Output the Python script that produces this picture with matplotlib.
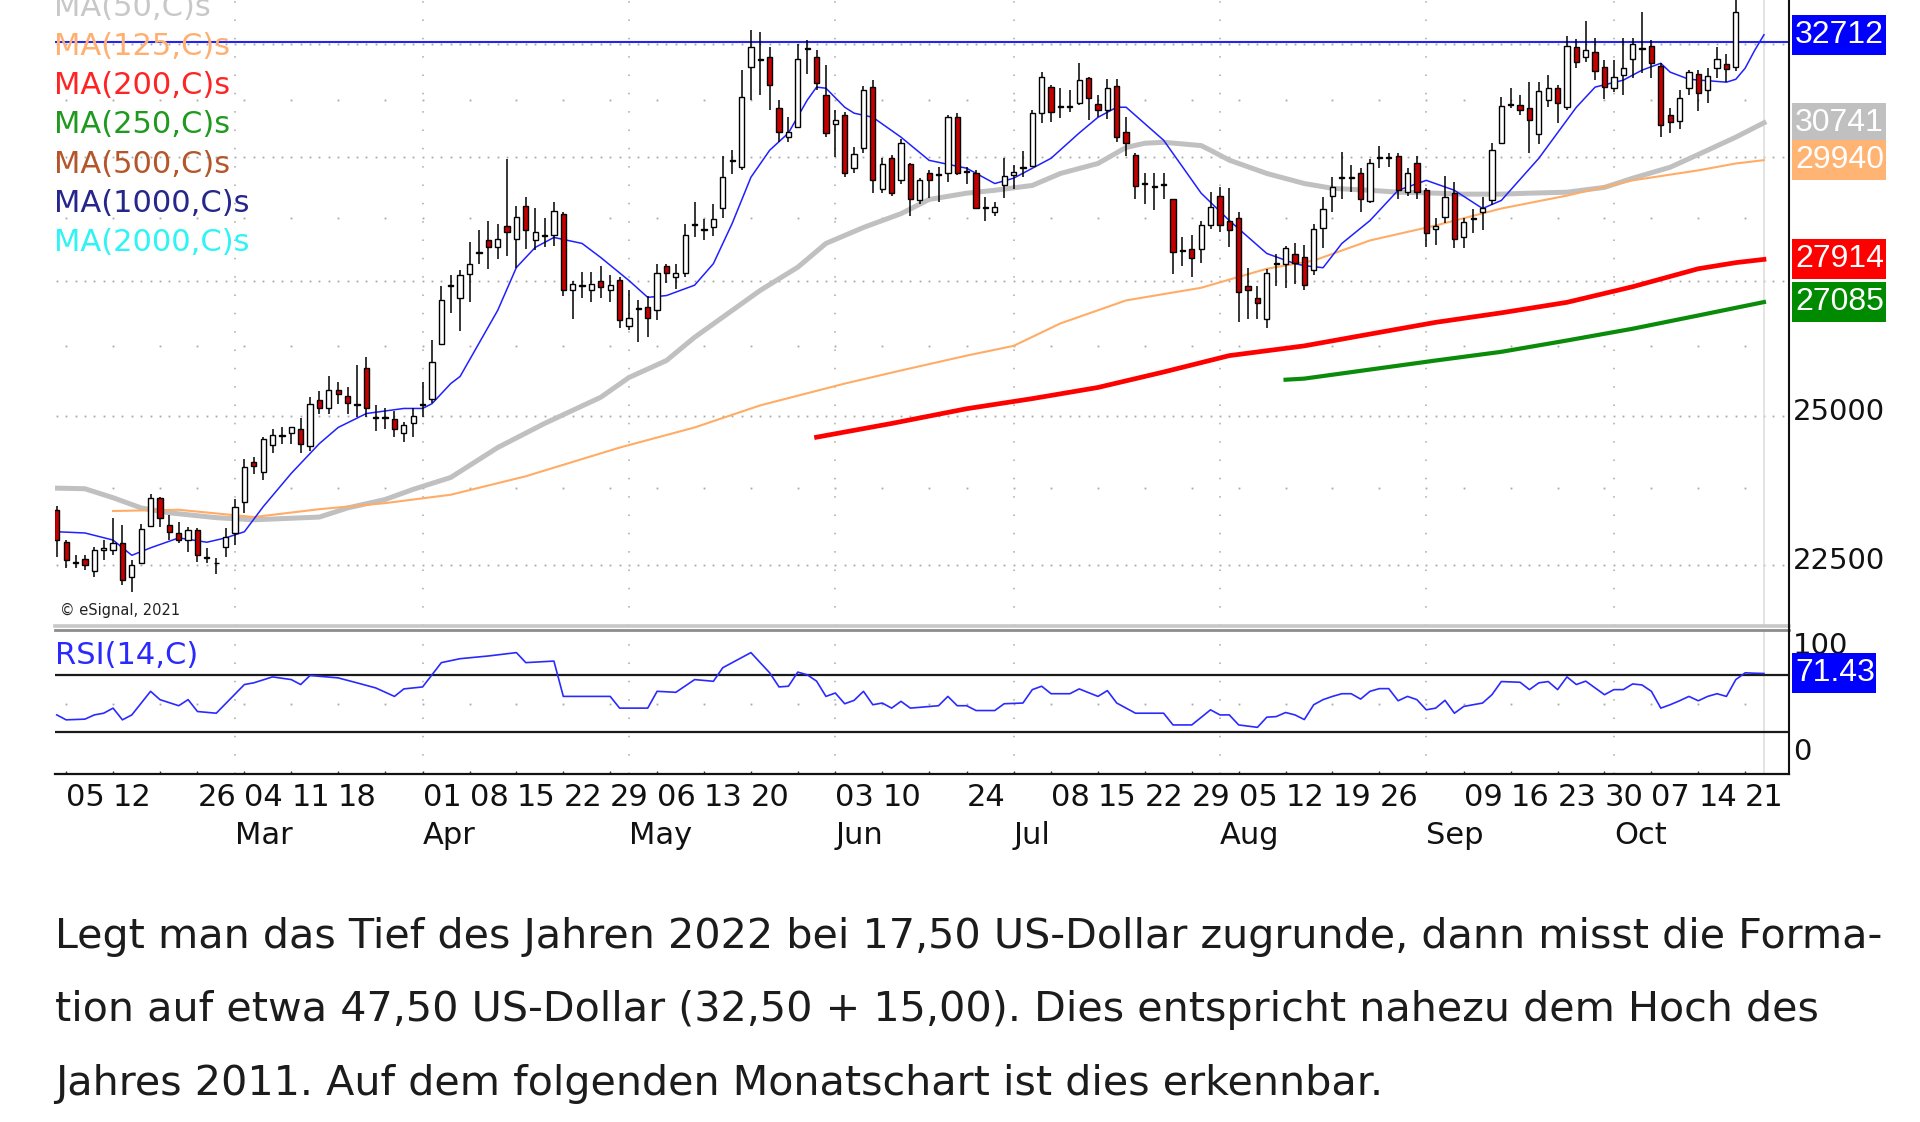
import numpy as np
import pandas as pd
import matplotlib
matplotlib.use("Agg")
import matplotlib.pyplot as plt
from matplotlib import transforms as mtrans
from matplotlib.lines import Line2D
from matplotlib.patches import Rectangle
from matplotlib.ticker import NullLocator

# ---------------- data ----------------
holidays = ["2024-02-19", "2024-03-29", "2024-05-27", "2024-06-19", "2024-07-04", "2024-09-02"]
dates = pd.bdate_range("2024-02-02", "2024-10-23")
dates = dates[~dates.isin(pd.to_datetime(holidays))]

opens = [
    23390, 22860, 22550, 22590, 22400, 22740, 22733, 22840, 22300, 22520,
    23125, 23590, 23140, 23010, 22895, 23060, 22630, 22530, 22780, 23010,
    23520, 24200, 24030, 24480, 24640, 24700, 24760, 24470, 25280, 25125,
    25460, 25340, 25190, 25845, 24960, 24955, 24930, 24700, 24860, 25190,
    25300, 26300, 27390, 27160, 27630, 28040, 28290, 28150, 28570, 28310,
    28995, 28290, 28380, 28390, 28830, 27310, 27400, 27310, 27500, 27310,
    27510, 26640, 26950, 27000, 26925, 27790, 27560, 27650, 28600, 28500,
    28550, 28955, 29930, 29790, 31970, 32140, 32200, 31060, 30430, 30645,
    32390, 32200, 31345, 30710, 30900, 29770, 30190, 31530, 29330, 29980,
    29516, 29850, 29100, 29680, 29630, 29680, 30860, 29690, 29680, 28950,
    28855, 29410, 29620, 29780, 29810, 30950, 31530, 31090, 31090, 31170,
    31725, 31150, 31015, 31550, 30540, 30040, 29440, 29380, 29420, 29120,
    28080, 28110, 28110, 28610, 29200, 28690, 28735, 27400, 27155, 26770,
    27820, 27830, 28030, 27970, 27710, 28530, 29200, 29570, 29570, 29660,
    29080, 29990, 29990, 30020, 29270, 29870, 29310, 28510, 28770, 29250,
    28350, 28720, 28855, 29100, 30300, 31140, 31125, 31060, 30495, 31235,
    31500, 31080, 32440, 32200, 32310, 31970, 31500, 31790, 32150, 32390,
    32450, 31990, 30900, 30770, 31500, 31815, 31457, 31950, 32040, 31970,
    33700, 33800, 34300,
]
highs = [
    23455, 22895, 22650, 22650, 22780, 22895, 23250, 23140, 22570, 23160,
    23650, 23610, 23310, 23190, 23110, 23090, 22760, 22600, 23090, 23575,
    24236, 24270, 24630, 24770, 24790, 24790, 24950, 25320, 25445, 25716,
    25590, 25500, 25900, 26050, 25180, 25140, 25088, 24880, 25140, 25590,
    26360, 27400, 27600, 27700, 28250, 28490, 28690, 28630, 29960, 28995,
    29165, 28937, 28750, 29060, 28855, 27500, 27660, 27660, 27790, 27600,
    27560, 27310, 27117, 27210, 27830, 27830, 27830, 28630, 29060, 28730,
    29020, 30020, 30150, 31905, 32820, 32770, 32430, 31235, 30860, 32500,
    32590, 32360, 32020, 31015, 30970, 30210, 31550, 31680, 29980, 30040,
    30400, 29890, 29560, 29725, 29790, 30900, 30950, 29790, 29725, 29165,
    29060, 29980, 29830, 30130, 31015, 31860, 31570, 31500, 31457, 32060,
    31750, 31345, 31700, 31700, 30860, 30085, 29660, 29660, 29680, 29140,
    28350, 28390, 28690, 29270, 29370, 29350, 28855, 27750, 27390, 27730,
    28030, 28170, 28230, 28190, 28630, 29165, 29580, 30110, 29830, 29770,
    29960, 30250, 30085, 30085, 29770, 30020, 29350, 28750, 29600, 29475,
    28750, 28935, 29165, 30300, 31300, 31500, 31345, 31635, 31635, 31790,
    31570, 32680, 32610, 33030, 32630, 32130, 32130, 32630, 32630, 33240,
    32590, 32060, 31060, 31457, 31905, 31905, 31950, 32430, 32270, 33750,
    34100, 34500, 34870,
]
lows = [
    22620, 22450, 22450, 22420, 22310, 22573, 22650, 22180, 22070, 22520,
    23110, 23110, 22895, 22845, 22700, 22540, 22520, 22360, 22620, 22810,
    23340, 23980, 23895, 24340, 24500, 24510, 24340, 24380, 25035, 25035,
    25210, 25035, 24965, 24965, 24720, 24770, 24630, 24530, 24630, 24965,
    25230, 26280, 26870, 26530, 27080, 27830, 27730, 27930, 27990, 27750,
    28110, 28090, 28150, 28170, 27210, 26770, 27160, 27080, 27160, 27080,
    26600, 26550, 26340, 26430, 26750, 27460, 27330, 27560, 28350, 28290,
    28370, 28750, 29640, 29725, 31235, 31350, 31015, 30320, 30320, 30620,
    31815, 31457, 30430, 30000, 29580, 29660, 30085, 29260, 29260, 29200,
    29450, 28790, 29020, 29160, 29060, 29475, 29620, 29450, 28935, 28690,
    28775, 29160, 29330, 29580, 29790, 30730, 30750, 30840, 30970, 31125,
    30800, 30860, 30820, 30320, 30020, 29140, 29020, 28900, 29140, 27630,
    27790, 27560, 27850, 28510, 28450, 28150, 26700, 26770, 26770, 26600,
    27400, 27350, 27440, 27310, 27600, 28130, 28855, 29140, 29270, 28855,
    29040, 29770, 29790, 29140, 29200, 29140, 28150, 28190, 28650, 28130,
    28130, 28430, 28490, 29000, 30280, 31060, 30900, 30085, 30280, 31080,
    30730, 31015, 31950, 32090, 31680, 31260, 31410, 31345, 31725, 31840,
    31725, 30430, 30520, 30600, 31345, 30990, 31170, 31725, 31635, 31880,
    33600, 33650, 33700,
]
closes = [
    22895, 22573, 22530, 22500, 22733, 22760, 22840, 22260, 22500, 23075,
    23590, 23260, 23025, 22895, 23060, 22650, 22610, 22520, 22940, 23440,
    24100, 24120, 24581, 24650, 24660, 24790, 24500, 25210, 25140, 25460,
    25380, 25230, 25200, 25125, 24970, 24965, 24756, 24825, 25000, 25200,
    25970, 27117, 27410, 27600, 27830, 28060, 28150, 28310, 28450, 28770,
    28490, 28450, 28400, 28875, 27310, 27440, 27420, 27440, 27370, 27420,
    26750, 26790, 26970, 26790, 27640, 27650, 27650, 28390, 28620, 28520,
    28730, 29580, 29950, 31300, 32430, 32160, 31570, 30540, 30540, 32150,
    32410, 31620, 30520, 30800, 29660, 30060, 31450, 29516, 29850, 29260,
    30300, 29140, 29516, 29516, 29650, 30860, 29680, 29710, 28955, 28970,
    28960, 29600, 29700, 29800, 30950, 31750, 30970, 31110, 31110, 31680,
    31280, 31015, 31500, 30430, 30300, 29400, 29460, 29400, 29440, 28050,
    28100, 27950, 28610, 28960, 28610, 28490, 27270, 27310, 27060, 27650,
    27840, 28130, 27850, 27410, 28510, 28935, 29370, 29590, 29590, 29140,
    29870, 30010, 30010, 29310, 29660, 29270, 28430, 28570, 29180, 28310,
    28670, 28740, 28955, 30150, 31100, 31160, 31015, 30796, 31435, 31500,
    31170, 32460, 32090, 32360, 31880, 31530, 31750, 31950, 32490, 32410,
    32060, 30690, 30750, 31280, 31860, 31400, 31770, 32150, 31930, 33240,
    33750, 34300, 33900,
]

ma10_bar = [0, 3, 6, 8, 10, 13, 16, 18, 20, 22, 25, 28, 30, 33, 37, 39, 40, 42, 43, 47,
            49, 51, 53, 56, 58, 61, 63, 65, 68, 70, 72, 74, 76, 78, 80, 81, 82, 84, 85, 87,
            90, 93, 97, 100, 102, 106, 109, 111, 113, 114, 118, 122, 125, 129, 132, 133, 135,
            137, 140, 143, 146, 149, 152, 154, 158, 162, 164, 167, 169, 171, 172, 174, 178,
            179, 180, 181, 182]
ma10_val = [23030, 23010, 22895, 22650, 22770, 22930, 22860, 22930, 23030, 23440, 24000,
            24510, 24790, 25035, 25125, 25125, 25210, 25570, 25700, 26925, 27755, 28150,
            28350, 28230, 27950, 27500, 27175, 27210, 27410, 27830, 28630, 29580, 30150,
            30520, 31235, 31525, 31500, 31080, 30950, 30860, 30430, 29936, 29770, 29450,
            29560, 29980, 30520, 30860, 31080, 31080, 30364, 29250, 28690, 28030, 27830,
            27790, 27750, 28230, 28690, 29310, 29516, 29310, 28935, 29100, 29980, 31080,
            31525, 31680, 31905, 32060, 31860, 31700, 31635, 31700, 31950, 32350, 32712]

ma50_bar = [0, 3, 6, 9, 12, 17, 21, 28, 31, 35, 38, 42, 47, 52, 58, 61, 65, 68, 72, 75,
            79, 82, 86, 90, 93, 97, 100, 104, 107, 111, 114, 116, 118, 122, 123, 125, 129,
            133, 136, 140, 143, 147, 150, 154, 157, 161, 165, 168, 172, 175, 179, 182]
ma50_val = [23750, 23740, 23590, 23420, 23340, 23260, 23225, 23270, 23420, 23560, 23730,
            23930, 24440, 24860, 25325, 25680, 25990, 26420, 26925, 27310, 27760, 28230,
            28550, 28830, 29120, 29250, 29310, 29410, 29660, 29870, 30210, 30300, 30320,
            30250, 30150, 29940, 29660, 29450, 29350, 29310, 29270, 29250, 29230, 29230,
            29250, 29270, 29370, 29560, 29790, 30060, 30430, 30741]

ma125_bar = [6, 13, 21, 28, 35, 42, 50, 60, 68, 75, 84, 90, 97, 102, 107, 114, 122, 129,
             134, 140, 147, 154, 161, 168, 175, 179, 182]
ma125_val = [23370, 23390, 23270, 23400, 23500, 23640, 23950, 24440, 24790, 25180, 25570,
             25808, 26080, 26260, 26680, 27117, 27360, 27730, 27890, 28290, 28590, 28935,
             29200, 29516, 29725, 29870, 29940]

ma200_bar = [81, 89, 97, 104, 111, 118, 125, 133, 140, 147, 154, 161, 168, 175, 179, 182]
ma200_val = [24620, 24860, 25120, 25300, 25500, 25780, 26080, 26260, 26480, 26700, 26880,
             27080, 27380, 27730, 27850, 27914]

ma250_bar = [131, 133, 147, 154, 161, 168, 175, 182]
ma250_val = [25640, 25660, 25990, 26150, 26360, 26580, 26830, 27085]

resistance = 32540

rsi_bar = [0, 1, 3, 4, 5, 6, 7, 8, 10, 11, 13, 14, 15, 17, 20, 21, 23, 25, 26, 27, 30, 32,
           34, 36, 37, 39, 41, 43, 46, 49, 50, 53, 54, 59, 60, 63, 64, 66, 68, 70, 71, 74,
           76, 77, 78, 79, 80, 81, 82, 83, 84, 85, 86, 87, 88, 89, 90, 91, 94, 95, 96, 97,
           98, 100, 101, 103, 104, 105, 106, 108, 109, 111, 112, 113, 114, 115, 118, 119,
           121, 123, 124, 125, 126, 128, 129, 130, 131, 132, 133, 134, 135, 136, 137, 138,
           139, 140, 141, 142, 143, 144, 145, 146, 147, 148, 149, 150, 151, 152, 153, 154,
           156, 157, 158, 159, 160, 161, 162, 163, 165, 166, 167, 168, 169, 170, 171, 172,
           173, 174, 175, 176, 177, 178, 179, 180, 181, 182]
rsi_val = [42.1, 38.6, 39.1, 42.1, 43.3, 46.9, 38.6, 42.1, 58.8, 52.9, 48.6, 52.9, 44.5,
           43.3, 63.6, 64.8, 69.0, 67.1, 63.6, 70.0, 68.3, 64.8, 61.2, 55.2, 60.5, 61.9,
           79.1, 81.9, 83.8, 86.2, 79.1, 80.2, 55.2, 55.2, 46.9, 46.9, 58.8, 58.1, 67.1,
           65.9, 75.5, 86.2, 71.9, 61.9, 62.4, 72.4, 70.5, 66.0, 55.2, 57.6, 50.0, 52.4,
           58.8, 49.3, 50.5, 46.9, 51.7, 46.9, 48.6, 55.2, 48.6, 48.6, 45.2, 45.2, 50.0,
           50.5, 60.0, 62.4, 57.1, 57.1, 60.5, 55.2, 59.3, 50.5, 46.9, 43.3, 43.3, 35.0,
           35.0, 45.7, 42.1, 42.1, 35.0, 33.3, 40.5, 40.9, 43.8, 42.1, 38.8, 49.3, 52.9,
           55.2, 57.1, 57.1, 53.3, 58.8, 60.7, 60.7, 52.1, 55.2, 52.9, 45.7, 46.9, 52.4,
           43.3, 48.1, 49.3, 50.5, 56.4, 65.7, 65.2, 60.0, 64.8, 65.7, 60.0, 69.0, 63.6,
           66.0, 56.4, 60.0, 60.0, 64.0, 63.3, 58.8, 46.9, 49.3, 52.1, 55.2, 52.1, 55.2,
           57.1, 55.2, 67.1, 71.9, 71.6, 71.43]

tick_dates = ["2024-02-05", "2024-02-12", "2024-02-26", "2024-03-04", "2024-03-11",
              "2024-03-18", "2024-04-01", "2024-04-08", "2024-04-15", "2024-04-22",
              "2024-04-29", "2024-05-06", "2024-05-13", "2024-05-20", "2024-06-03",
              "2024-06-10", "2024-06-24", "2024-07-08", "2024-07-15", "2024-07-22",
              "2024-07-29", "2024-08-05", "2024-08-12", "2024-08-19", "2024-08-26",
              "2024-09-09", "2024-09-16", "2024-09-23", "2024-09-30", "2024-10-07",
              "2024-10-14", "2024-10-21"]
month_names = ["Mar", "Apr", "May", "Jun", "Jul", "Aug", "Sep", "Oct"]

ma_labels = ["MA(50,C)s", "MA(125,C)s", "MA(200,C)s", "MA(250,C)s", "MA(500,C)s",
             "MA(1000,C)s", "MA(2000,C)s"]
ma_label_colors = ["#c8c8c8", "#ffb070", "#ff2424", "#1f9a1f", "#b5562a", "#26268c", "#30f4f4"]

tag_vals = [32712, 30741, 29940, 27914, 27085]
tag_colors = ["#0000ff", "#c0c0c0", "#ffb474", "#ff0000", "#008a00"]
rsi_tag = 71.43

paragraph = ["Legt man das Tief des Jahren 2022 bei 17,50 US-Dollar zugrunde, dann misst die Forma-",
             "tion auf etwa 47,50 US-Dollar (32,50 + 15,00). Dies entspricht nahezu dem Hoch des",
             "Jahres 2011. Auf dem folgenden Monatschart ist dies erkennbar."]

# ---------------- layout helpers ----------------
W, H = 1920, 1122
fig = plt.figure(figsize=(W / 100, H / 100), dpi=100)
fig.patch.set_facecolor("white")


def fx(px):
    return px / W


def fy(px):
    return 1 - px / H


n = len(dates)
bars = np.arange(n)
date_index = {d.strftime("%Y-%m-%d"): i for i, d in enumerate(dates)}
month_start = [int(np.where((dates.month == m))[0][0]) for m in range(3, 11)]
iso = dates.isocalendar()
week_key = (iso["year"].astype(str) + "-" + iso["week"].astype(str)).values
week_start = [i for i in range(n) if i > 0 and week_key[i] != week_key[i - 1]]

XL = (-0.19, 184.67)
PLEFT, PRIGHT = 55, 1789

ax = fig.add_axes([fx(PLEFT), fy(626), fx(PRIGHT) - fx(PLEFT), fy(0) - fy(626)])
ax.set_yscale("log")
ax.set_ylim(21547, 33525)
ax.set_xlim(*XL)

ax2 = fig.add_axes([fx(PLEFT), fy(774), fx(PRIGHT) - fx(PLEFT), fy(630) - fy(774)])
ax2.set_ylim(0.27, 102.2)
ax2.set_xlim(*XL)

for a in (ax, ax2):
    a.yaxis.set_major_locator(NullLocator())
    a.yaxis.set_minor_locator(NullLocator())
    a.xaxis.set_minor_locator(NullLocator())
    for s in ("left", "right", "top"):
        a.spines[s].set_visible(False)
ax.xaxis.set_major_locator(NullLocator())
ax.spines["bottom"].set_color("#c8c8c8")
ax.spines["bottom"].set_linewidth(2.6)
ax2.spines["top"].set_visible(True)
ax2.spines["top"].set_color("#8c8c8c")
ax2.spines["top"].set_linewidth(2.0)
ax2.spines["bottom"].set_color("#111111")
ax2.spines["bottom"].set_linewidth(1.6)
ax2.set_xticks(week_start)
ax2.tick_params(axis="x", direction="in", length=2.5, width=1.0, labelbottom=False, color="#333333")

# ---------------- grid ----------------
grid_c = "#a8a8a8"
for lvl in [22500, 25000, 27500, 30000, 32500]:
    ax.plot(np.arange(0, 185), [lvl] * 185, ls="none", marker="s", ms=1.3, mfc=grid_c,
            mec="none", zorder=0.5)
for lvl in [23750, 26250, 28750, 31250]:
    ax.plot(week_start, [lvl] * len(week_start), ls="none", marker="s", ms=1.3, mfc=grid_c,
            mec="none", zorder=0.5)
ax2.plot(week_start, [50] * len(week_start), ls="none", marker="s", ms=1.3, mfc=grid_c,
         mec="none", zorder=0.5)
for b in month_start:
    for a in (ax, ax2):
        a.axvline(b, color=grid_c, lw=1.1, ls=(0, (1, 11)), zorder=0.5)
for a in (ax, ax2):
    a.axvline(n - 1, color="#dcdcdc", lw=1.1, zorder=0.6)

# ---------------- price panel ----------------
ax.axhline(resistance, color="#2424f0", lw=1.5, zorder=1)
ax.plot(ma125_bar, ma125_val, color="#ffac66", lw=1.5, zorder=1.2)
ax.plot(ma50_bar, ma50_val, color="#c0c0c0", lw=3.6, zorder=1.1, solid_joinstyle="round")
ax.plot(ma200_bar, ma200_val, color="#ff0000", lw=3.4, zorder=1.3, solid_joinstyle="round")
ax.plot(ma250_bar, ma250_val, color="#0a8c0a", lw=3.0, zorder=1.3, solid_joinstyle="round")
ax.plot(ma10_bar, ma10_val, color="#2020ff", lw=1.1, zorder=1.4)

o = np.array(opens, float)
h = np.array(highs, float)
l = np.array(lows, float)
c = np.array(closes, float)
ax.vlines(bars, l, h, color="black", lw=1.1, zorder=2)
lo = np.minimum(o, c)
hi = np.maximum(o, c)
body_col = np.where(c < o, "#c40000", "white")
ax.bar(bars, hi - lo, bottom=lo, width=0.56, color=body_col, edgecolor="black",
       linewidth=1.0, zorder=3)

fig.text(fx(60), fy(610), "\u00a9 eSignal, 2021", fontsize=10.5, color="#222222",
         ha="left", va="center", zorder=4)

for i, (lab, col) in enumerate(zip(ma_labels, ma_label_colors)):
    fig.text(fx(54), fy(7 + 39.3 * i), lab, fontsize=22, color=col, ha="left",
             va="center", zorder=4)

# right axis labels
for val in [25000, 22500]:
    ax.annotate(str(val), xy=(1.0, val), xycoords=("axes fraction", "data"),
                xytext=(3, 2.5), textcoords="offset points", ha="left", va="center",
                fontsize=21, color="#111111", annotation_clip=False)

inv = fig.transFigure.inverted()


def tag(axis, val, color, text, width):
    ypix = axis.transData.transform((0, val))[1]
    x0, y0 = inv.transform((1792, ypix - 20))
    x1, y1 = inv.transform((1792 + width, ypix + 20))
    fig.add_artist(Rectangle((x0, y0), x1 - x0, y1 - y0, transform=fig.transFigure,
                             facecolor=color, edgecolor="none", zorder=1))
    fig.text(fx(1795), inv.transform((0, ypix))[1], text, fontsize=23, color="white",
             family="Liberation Sans", ha="left", va="center", zorder=3)


for val, col in zip(tag_vals, tag_colors):
    tag(ax, val, col, str(val), 94)

# ---------------- RSI panel ----------------
ax2.axhline(70, color="#1a1a1a", lw=1.6, zorder=1)
ax2.axhline(30, color="#1a1a1a", lw=1.6, zorder=1)
ax2.plot(rsi_bar, rsi_val, color="#2a2aff", lw=1.2, zorder=2)
fig.text(fx(55), fy(655), "RSI(14,C)", fontsize=22, color="#2a2aff", ha="left",
         va="center", zorder=4)
fig.text(fx(1793), fy(646), "100", fontsize=21, color="#111111", ha="left", va="center",
         zorder=0.5)
fig.text(fx(1793), fy(752), "0", fontsize=21, color="#111111", ha="left", va="center",
         zorder=0.5)
tag(ax2, rsi_tag, "#0000ff", f"{rsi_tag:.2f}", 84)

# right border
fig.add_artist(Line2D([fx(1789), fx(1789)], [fy(0), fy(774)], color="#111111", lw=1.5,
                      transform=fig.transFigure))

# ---------------- x labels ----------------
bt = mtrans.blended_transform_factory(ax2.transData, fig.transFigure)
for d in tick_dates:
    ax2.text(date_index[d], fy(797), d[-2:], transform=bt, fontsize=22, color="#111111",
             ha="left", va="center", clip_on=False)
for b, name in zip(month_start, month_names):
    ax2.text(b, fy(835), name, transform=bt, fontsize=22, color="#111111", ha="left",
             va="center", clip_on=False)

# ---------------- paragraph ----------------
texts = []
for i, line in enumerate(paragraph):
    texts.append(fig.text(fx(55), fy(948 + 73.5 * i), line, fontsize=30, color="#1c1c1c",
                          ha="left", va="baseline"))
fig.canvas.draw()
w0 = texts[0].get_window_extent().width
fs = 30 * 1822 / w0
for t in texts:
    t.set_fontsize(fs)

fig.savefig("out.png", dpi=100)
